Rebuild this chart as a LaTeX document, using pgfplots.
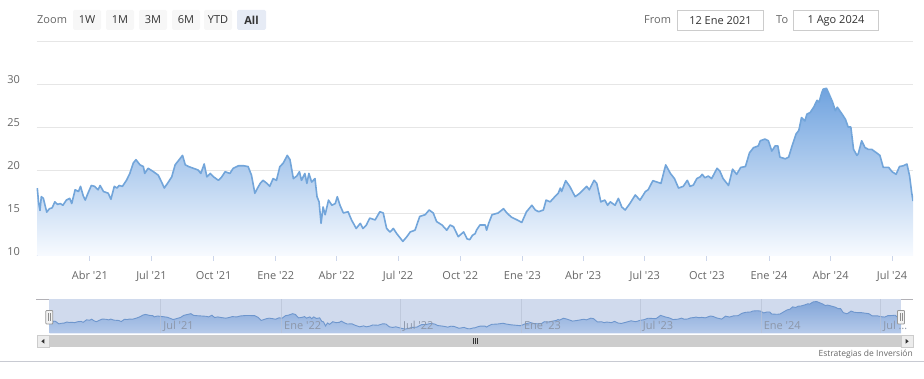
\documentclass[border=0pt]{standalone}
\usepackage{pgfplots}
\pgfplotsset{compat=1.18}
\usepackage{pgfplotstable}
\usepackage{fontspec}
\setmainfont{Open Sans}

\definecolor{lab}{RGB}{102,102,102}
\definecolor{btntxt}{RGB}{51,51,51}
\definecolor{gridcol}{RGB}{230,230,230}
\definecolor{axiscol}{RGB}{204,214,235}
\definecolor{linecol}{RGB}{114,165,218}
\definecolor{filltop}{RGB}{112,163,223}
\definecolor{fillbot}{RGB}{248,251,255}
\definecolor{maskcol}{RGB}{208,218,237}
\definecolor{navtop}{RGB}{118,158,214}
\definecolor{navbot}{RGB}{178,200,234}
\definecolor{navline}{RGB}{110,150,205}
\definecolor{navgrid}{RGB}{184,194,214}
\definecolor{navlab}{RGB}{140,150,168}
\definecolor{btnbg}{RGB}{247,247,247}
\definecolor{btnsel}{RGB}{230,235,245}
\definecolor{boxbd}{RGB}{204,204,204}
\definecolor{sbtrack}{RGB}{205,205,205}
\definecolor{sbbtn}{RGB}{236,236,236}
\definecolor{outl}{RGB}{178,177,182}
\definecolor{sepcol}{RGB}{200,202,210}

\pgfplotstableread{
day val
12 17.9
14 16.2
16 15.3
18 16.9
21 16.7
26 15.1
30 15.5
34 15.6
38 16.3
42 16.0
46 16.1
50 15.9
55 16.5
60 16.7
63 16.1
68 17.7
73 17.5
76 18.1
80 17.0
83 16.5
87 17.3
92 18.2
97 18.1
102 17.7
105 18.2
110 17.5
117 17.3
121 16.6
126 18.1
130 17.9
133 18.2
138 18.1
144 18.8
149 19.6
154 20.8
158 21.2
164 20.6
169 20.4
171 19.6
176 20.2
184 19.8
191 19.4
196 18.6
200 17.9
206 18.6
211 19.2
216 20.6
222 21.2
227 21.7
231 20.6
236 20.4
243 20.2
250 20.0
254 19.6
259 20.7
263 19.2
268 19.6
273 19.2
280 18.8
285 19.2
290 19.8
297 19.6
302 20.2
310 20.5
317 20.5
324 20.4
329 19.4
334 17.3
338 17.9
342 18.45
346 18.8
351 18.5
356 18.1
361 19.0
366 18.8
371 20.4
376 20.8
382 21.7
386 21.2
391 19.0
396 19.3
400 19.8
403 18.8
408 19.6
411 18.45
414 19.6
418 18.6
423 19.0
426 16.9
429 16.3
432 13.8
435 15.7
438 14.8
443 16.5
448 15.9
453 16.1
456 16.9
460 15.9
465 15.0
472 15.15
477 14.2
484 13.2
490 13.8
494 13.2
499 13.6
504 14.4
512 14.2
519 15.15
524 15.0
529 13.2
534 12.8
539 13.2
544 12.6
553 11.7
559 12.25
564 12.8
571 13.0
578 14.6
586 14.8
592 15.35
598 15.0
603 14.0
611 13.6
618 13.0
623 13.6
628 13.4
635 12.25
643 12.8
648 12.0
652 11.9
656 12.4
660 12.6
662 13.0
667 13.6
670 13.6
675 13.6
677 13.0
680 13.8
685 14.8
694 15.0
702 15.5
707 15.0
714 14.5
722 14.2
729 13.9
736 15.15
744 15.9
749 15.35
754 15.15
761 15.35
765 16.5
771 16.3
778 16.9
783 17.3
786 17.9
788 17.5
794 18.76
800 18.1
808 16.9
815 17.3
820 17.7
825 18.1
829 17.7
836 18.8
840 18.45
846 16.3
852 16.5
856 15.9
860 16.3
867 15.9
872 16.7
877 15.7
882 15.35
889 16.1
897 17.1
904 16.5
912 17.5
916 17.7
923 18.76
929 18.6
935 18.45
942 20.6
949 19.6
955 19.0
961 17.9
968 18.1
974 18.8
978 18.1
983 18.25
988 19.0
993 19.2
996 19.5
1000 19.1
1005 19.3
1010 19.0
1018 20.2
1022 19.9
1027 19.0
1035 18.2
1041 20.1
1047 19.5
1053 20.3
1060 20.4
1066 22.0
1072 22.6
1079 22.8
1082 23.4
1089 23.6
1094 23.4
1099 22.2
1104 22.8
1108 22.8
1111 21.5
1119 21.3
1124 21.5
1129 22.8
1135 24.2
1139 24.6
1143 26.1
1148 25.7
1151 26.5
1156 26.7
1161 27.3
1166 28.1
1169 27.9
1173 29.0
1175 29.4
1180 29.5
1184 28.8
1189 27.9
1193 26.9
1196 27.3
1203 26.5
1208 25.9
1212 25.0
1216 25.0
1220 22.4
1225 21.7
1227 21.9
1232 23.4
1237 22.6
1242 22.4
1247 22.4
1254 22.0
1259 21.7
1264 20.3
1272 20.3
1277 19.8
1283 19.5
1288 20.4
1294 20.5
1299 20.7
1303 19.3
1306 17.4
1308 16.4
}\prices

\newcommand{\q}{\textquotesingle}

\begin{document}
\begin{tikzpicture}[x=1pt,y=-1pt]
\path[use as bounding box] (0,0) rectangle (924,379);

% ---------- range selector ----------
\node[anchor=west, inner sep=0, text=lab, font=\fontsize{11}{13}\selectfont] at (37,20) {Zoom};
\foreach \cx/\t in {87/1W,120/1M,153/3M,186/6M,218/YTD}{
  \fill[btnbg, rounded corners=1.5pt] (\cx-14,10) rectangle (\cx+14,30);
  \node[inner sep=0, text=btntxt, font=\fontsize{11}{13}\selectfont] at (\cx,20) {\t};
}
\fill[btnsel, rounded corners=1.5pt] (237,10) rectangle (266,30);
\node[inner sep=0, text=btntxt, font=\fontsize{11}{13}\selectfont\bfseries] at (251.5,20) {All};

\node[anchor=west, inner sep=0, text=lab, font=\fontsize{11}{13}\selectfont] at (644,20) {From};
\draw[boxbd, line width=1pt, fill=white] (677.5,10.5) rectangle (763.5,30.5);
\node[inner sep=0, text=btntxt, font=\fontsize{11}{13}\selectfont] at (720.5,20.5) {12 Ene 2021};
\node[anchor=west, inner sep=0, text=lab, font=\fontsize{11}{13}\selectfont] at (776,20) {To};
\draw[boxbd, line width=1pt, fill=white] (793.5,10.5) rectangle (878.5,30.5);
\node[inner sep=0, text=btntxt, font=\fontsize{11}{13}\selectfont] at (836,20.5) {1 Ago 2024};

% ---------- main chart ----------
\begin{axis}[
  at={(36.6pt,-256pt)}, anchor=south west, scale only axis,
  width=876.4pt, height=215pt,
  xmin=11, xmax=1308, ymin=10, ymax=35,
  axis x line*=bottom, axis y line*=left,
  y axis line style={draw=none},
  x axis line style={draw=axiscol, line width=1pt},
  tick align=outside, major tick length=5pt,
  xtick={90,181,273,365,455,546,638,730,820,911,1003,1095,1186,1277},
  xticklabels={Abr \q21,Jul \q21,Oct \q21,Ene \q22,Abr \q22,Jul \q22,Oct \q22,Ene \q23,Abr \q23,Jul \q23,Oct \q23,Ene \q24,Abr \q24,Jul \q24},
  xtick style={draw=axiscol, line width=1pt},
  ytick={10,15,20,25,30,35},
  yticklabels={10,15,20,25,30,{}},
  ytick style={draw=none},
  ymajorgrids, grid style={draw=gridcol, line width=1pt},
  /pgf/number format/assume math mode=true,
  xticklabel style={anchor=base, inner sep=0pt, yshift=-18.5pt, text=lab, font=\fontsize{11}{13}\selectfont},
  yticklabel style={anchor=east, inner sep=0pt, xshift=-11.5pt, yshift=4pt, text=lab, font=\fontsize{11}{13}\selectfont},
]
\addplot[draw=none, top color=filltop, bottom color=fillbot] table[x=day,y=val]{\prices} |- (axis cs:12,10) -- cycle;
\addplot[color=linecol, line width=1.6pt, line join=round, mark=none] table[x=day,y=val]{\prices};
\end{axis}

% ---------- navigator ----------
\draw[outl, line width=0.8pt] (36,299.3) -- (913,299.3);
\begin{axis}[
  at={(49pt,-333.3pt)}, anchor=south west, scale only axis,
  width=852pt, height=34pt,
  xmin=11, xmax=1308, ymin=9, ymax=31,
  axis on top,
  axis line style={draw=none},
  axis background/.style={fill=maskcol},
  ytick=\empty,
  xtick={181,365,546,730,911,1095,1277},
  xticklabels={Jul \q21,Ene \q22,Jul \q22,Ene \q23,Jul \q23,Ene \q24,Jul …},
  major tick length=0pt, xtick style={draw=none},
  xmajorgrids, grid style={draw=navgrid, line width=0.8pt, opacity=0.7},
  xticklabel style={anchor=base west, inner sep=0pt, xshift=2.5pt, yshift=3.5pt, text=navlab, font=\fontsize{11}{13}\selectfont},
]
\addplot[draw=none, top color=navtop, bottom color=navbot, fill opacity=0.85] table[x=day,y=val]{\prices} |- (axis cs:12,9) -- cycle;
\addplot[color=navline, line width=0.9pt, mark=none] table[x=day,y=val]{\prices};
\end{axis}
% handles
\foreach \hx in {49.3,901}{
  \draw[draw=gray!80, fill=white!95!black, line width=0.8pt, rounded corners=0.8pt] (\hx-3.5,310.5) rectangle (\hx+3.5,324);
  \draw[gray!90, line width=0.6pt] (\hx-1,313.5) -- (\hx-1,321) (\hx+1,313.5) -- (\hx+1,321);
}

% ---------- scrollbar ----------
\fill[sbtrack] (49,335) rectangle (901,347.5);
\draw[boxbd, fill=sbbtn, line width=0.6pt] (36.8,335.2) rectangle (49,347.3);
\draw[boxbd, fill=sbbtn, line width=0.6pt] (901,335.2) rectangle (913.2,347.3);
\fill[btntxt] (41.3,341.3) -- (44.3,339) -- (44.3,343.6) -- cycle;
\fill[btntxt] (908.7,341.3) -- (905.7,339) -- (905.7,343.6) -- cycle;
\draw[btntxt, line width=0.7pt] (473,338.5) -- (473,344) (475,338.5) -- (475,344) (477,338.5) -- (477,344);

% ---------- credits ----------
\node[anchor=base east, inner sep=0, text=gray!80!black, font=\fontsize{8.5}{10}\selectfont] at (913,357) {Estrategias de Inversión};
\draw[sepcol, line width=0.8pt] (0,361) -- (924,361);
\end{tikzpicture}
\end{document}
